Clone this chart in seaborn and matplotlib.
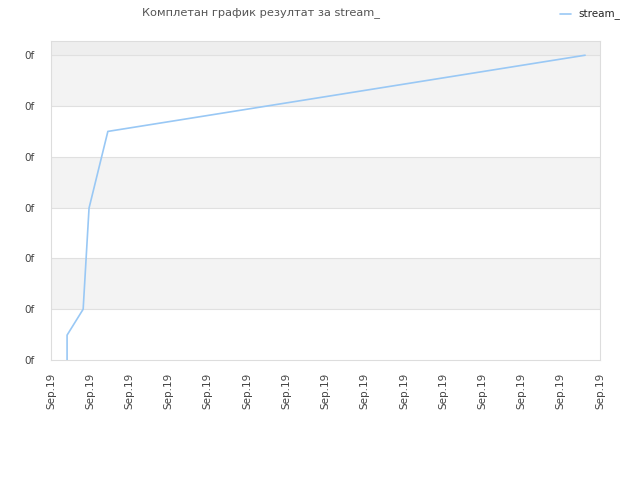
import pandas as pd
import matplotlib
matplotlib.use("Agg")
import matplotlib.pyplot as plt
import seaborn as sns

# data (x in tick units, y in tick units)
day = [0.41, 0.41, 0.82, 0.97, 1.45, 13.62]
score = [0.0, 0.49, 1.0, 2.99, 4.5, 6.0]
x_labels = ["Sep.19"] * 15
y_labels = ["0f"] * 7

df = pd.DataFrame({"day": day, "score": score})

sns.set_theme(style="white")
plt.rcParams["font.family"] = ["DejaVu Sans"]

fig = plt.figure(figsize=(6.4, 4.8), dpi=100)
ax = fig.add_axes([51 / 640, 120 / 480, 549 / 640, 319 / 480])

# alternating bands
for k in range(0, 6):
    if k % 2 == 1:
        ax.axhspan(k, k + 1, color="#f3f3f3", zorder=0, lw=0)
ax.axhspan(6, 6.28, color="#eeeeee", zorder=0, lw=0)
for k in range(1, 7):
    ax.axhline(k, color="#e0e0e0", lw=0.8, zorder=1)

sns.lineplot(data=df, x="day", y="score", ax=ax, color="#99c8f5", lw=1.2,
             label="stream_", sort=False, estimator=None, zorder=3)

ax.set_xlim(0, 14)
ax.set_ylim(0, 6.28)
ax.set_xticks(range(15))
ax.set_xticklabels(x_labels, rotation=90, fontsize=7.5, color="#444444")
ax.set_yticks(range(7))
ax.set_yticklabels(y_labels, fontsize=7.5, color="#444444")
ax.tick_params(axis="y", length=0, pad=12)
ax.tick_params(axis="x", length=0, pad=9)
ax.set_xlabel("")
ax.set_ylabel("")
for s in ax.spines.values():
    s.set_color("#dddddd")
    s.set_linewidth(0.8)

fig.text(261 / 640, 1 - 13 / 480, "Комплетан график резултат за stream_",
         ha="center", va="center", fontsize=8.2, color="#555555")

ax.legend(loc="center left", bbox_to_anchor=(556 / 640, 1 - 15 / 480),
          bbox_transform=fig.transFigure, frameon=False, fontsize=7.5,
          handlelength=1.0, handletextpad=0.8, borderaxespad=0)

fig.savefig("out.png", dpi=100)
